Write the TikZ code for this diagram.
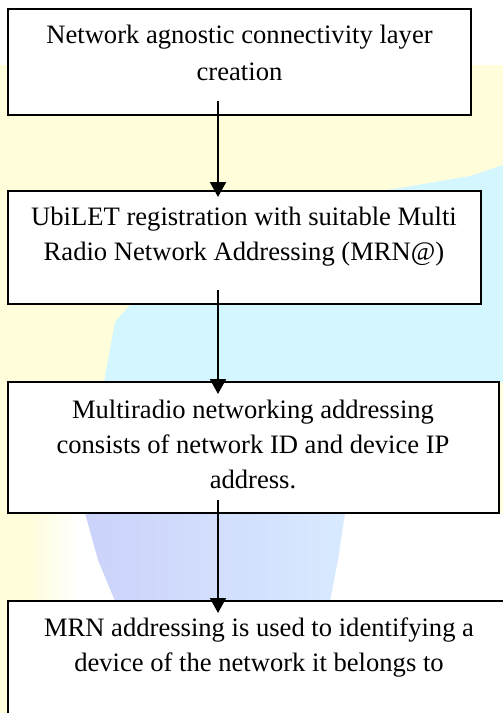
\documentclass[tikz,border=0pt]{standalone}
\usepackage{fontspec}
\setmainfont{Liberation Serif}
\usetikzlibrary{arrows.meta}
\definecolor{ylw}{RGB}{255,253,218}
\definecolor{cyn}{RGB}{212,246,255}
\definecolor{lav}{RGB}{204,210,250}
\definecolor{lblu}{RGB}{216,234,255}
\tikzset{
  box/.style={draw=black, fill=white, line width=1.8pt, inner sep=0pt},
  txt/.style={anchor=base, inner sep=0pt, font=\fontsize{26.6}{35}\selectfont},
  arr/.style={line width=2pt, -{Triangle[width=16pt,length=15pt]}}
}
\begin{document}
\begin{tikzpicture}[x=1pt,y=-1pt]
\useasboundingbox (0,0) rectangle (503,713);
\clip (0,0) rectangle (503,713);
% background watermark
\fill[white] (0,0) rectangle (503,713);
\fill[ylw] (0,65) rectangle (503,713);
\fill[cyn] (503,165) -- (470,176) -- (400,188) -- (300,202) -- (220,234) -- (150,282) -- (115,322) -- (104,382) -- (503,382) -- (503,480) -- cycle;
\shade[left color=ylw, right color=white] (30,513) rectangle (80,713);
\fill[white] (80,513) rectangle (503,713);
\shade[left color=lav, right color=lblu] (85,513) -- (345,513) -- (338,560) -- (330,601) -- (115,601) -- (98,560) -- cycle;
% boxes
\node[box, minimum width=463pt, minimum height=106pt] (b1) at (239.5,62) {};
\node[box, minimum width=473pt, minimum height=113pt] (b2) at (244.5,247.5) {};
\node[box, minimum width=491pt, minimum height=131pt] (b3) at (253.5,447.5) {};
\node[box, minimum width=502pt, minimum height=140pt] (b4) at (259,671) {};
% texts
\node[txt] (t1a) at (239.5,43) {Network agnostic connectivity layer};
\node[txt] (t1b) at (239.5,80) {creation};
\node[txt] (t2a) at (244,225) {UbiLET registration with suitable Multi};
\node[txt] (t2b) at (244,260) {Radio Network Addressing (MRN@)};
\node[txt] (t3a) at (253,418) {Multiradio networking addressing};
\node[txt] (t3b) at (253,453) {consists of network ID and device IP};
\node[txt] (t3c) at (253,488) {address.};
\node[txt] (t4a) at (259,636) {MRN addressing is used to identifying a};
\node[txt] (t4b) at (259,671) {device of the network it belongs to};
% connectors
\coordinate (s1) at (218,101);
\coordinate (e1) at (218,197);
\coordinate (s2) at (218,290);
\coordinate (e2) at (218,394);
\coordinate (s3) at (218,500);
\coordinate (e3) at (218,613);
\draw[arr] (s1) -- (e1);
\draw[arr] (s2) -- (e2);
\draw[arr] (s3) -- (e3);
\end{tikzpicture}
\end{document}
